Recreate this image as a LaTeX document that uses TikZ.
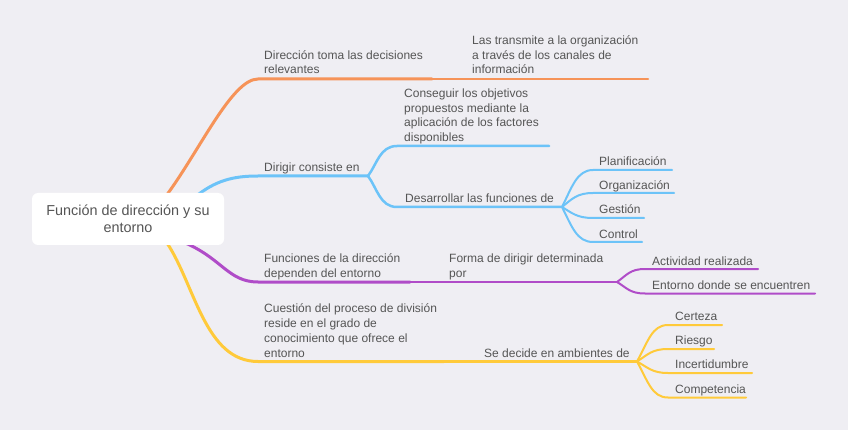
\documentclass[tikz,border=0pt]{standalone}
\usepackage{fontspec}
\setmainfont{Liberation Sans}
\definecolor{bgc}{HTML}{EFEEF3}
\definecolor{txtc}{HTML}{555555}
\definecolor{orc}{HTML}{F69358}
\definecolor{blc}{HTML}{6CC3F8}
\definecolor{puc}{HTML}{B04CC8}
\definecolor{yec}{HTML}{FFCA3A}
\begin{document}
\begin{tikzpicture}[x=1pt,y=-1pt,
  lvlone/.style={line width=3pt,line cap=round},
  lvltwo/.style={line width=2.5pt,line cap=round},
  leafline/.style={line width=2pt,line cap=round},
  txt/.style={anchor=base west,inner sep=0pt,align=left,text=txtc,
    font=\fontsize{12}{14.7}\selectfont},
  rootbox/.style={fill=white,rounded corners=6pt,minimum width=192pt,
    minimum height=52pt,align=center,text=txtc,inner sep=0pt,
    font=\fontsize{14.4}{17.3}\selectfont}]
\fill[bgc] (0,0) rectangle (848,430);
\useasboundingbox (0,0) rectangle (848,430);

% ---------- orange ----------
\coordinate (oS) at (166,196);
\coordinate (oA) at (258,79);
\coordinate (oB) at (432,79);
\coordinate (oC) at (648,79);
\draw[lvlone,orc] (oS) .. controls +(34,-46) and +(-26,0) .. (oA) -- (oB);
\draw[lvltwo,orc] (oB) -- (oC);
\node[txt] (o1) at (264,74) {Dirección toma las decisiones\\relevantes};
\node[txt] (o2) at (472,74) {Las transmite a la organización\\a través de los canales de\\información};

% ---------- blue ----------
\coordinate (bS) at (195,197);
\coordinate (bA) at (258,176);
\coordinate (bB) at (368,176);
\coordinate (bC) at (397,146);
\coordinate (bC2) at (549,146);
\coordinate (bD) at (397,207);
\coordinate (bE) at (562,207);
\draw[lvlone,blc] (bS) .. controls +(20,-16) and +(-26,0) .. (bA) -- (bB);
\draw[lvltwo,blc] (bB) .. controls +(9,-12) and +(-17,0) .. (bC) -- (bC2);
\draw[lvltwo,blc] (bB) .. controls +(9,12) and +(-17,0) .. (bD) -- (bE);
\coordinate (l1a) at (593,170); \coordinate (l1b) at (672,170);
\coordinate (l2a) at (593,193); \coordinate (l2b) at (674,193);
\coordinate (l3a) at (593,218); \coordinate (l3b) at (644,218);
\coordinate (l4a) at (593,242); \coordinate (l4b) at (642,242);
\draw[leafline,blc] (bE) .. controls +(10,-20) and +(-16,0) .. (l1a) -- (l1b);
\draw[leafline,blc] (bE) .. controls +(10,-8) and +(-16,0) .. (l2a) -- (l2b);
\draw[leafline,blc] (bE) .. controls +(10,6) and +(-16,0) .. (l3a) -- (l3b);
\draw[leafline,blc] (bE) .. controls +(10,20) and +(-16,0) .. (l4a) -- (l4b);
\node[txt] (b1) at (264,172) {Dirigir consiste en};
\node[txt] (b2) at (404,141.5) {Conseguir los objetivos\\propuestos mediante la\\aplicación de los factores\\disponibles};
\node[txt] (b3) at (405,202.5) {Desarrollar las funciones de};
\node[txt] (b4) at (599,166) {Planificación};
\node[txt] (b5) at (599,189.5) {Organización};
\node[txt] (b6) at (599,214) {Gestión};
\node[txt] (b7) at (599,238.5) {Control};

% ---------- purple ----------
\coordinate (pS) at (183,242);
\coordinate (pA) at (258,282);
\coordinate (pB) at (410,282);
\coordinate (pC) at (617,282);
\draw[lvlone,puc] (pS) .. controls +(39,16) and +(-30,0) .. (pA) -- (pB);
\draw[lvltwo,puc] (pB) -- (pC);
\coordinate (m1a) at (645,269); \coordinate (m1b) at (758,269);
\coordinate (m2a) at (645,293.5); \coordinate (m2b) at (815,293.5);
\draw[leafline,puc] (pC) .. controls +(10,-7) and +(-15,0) .. (m1a) -- (m1b);
\draw[leafline,puc] (pC) .. controls +(10,6) and +(-15,0) .. (m2a) -- (m2b);
\node[txt] (p1) at (264,277.5) {Funciones de la dirección\\dependen del entorno};
\node[txt] (p2) at (449,277.5) {Forma de dirigir determinada\\por};
\node[txt] (p3) at (652,265.5) {Actividad realizada};
\node[txt] (p4) at (652,289.5) {Entorno donde se encuentren};

% ---------- yellow ----------
\coordinate (yS) at (167,243);
\coordinate (yA) at (258,361.5);
\coordinate (yB) at (444,361.5);
\coordinate (yC) at (637,361.5);
\draw[lvlone,yec] (yS) .. controls +(28,42) and +(-53,0) .. (yA) -- (yB);
\draw[lvltwo,yec] (yB) -- (yC);
\coordinate (n1a) at (668,325); \coordinate (n1b) at (722,325);
\coordinate (n2a) at (668,349); \coordinate (n2b) at (714,349);
\coordinate (n3a) at (668,373); \coordinate (n3b) at (752,373);
\coordinate (n4a) at (668,397.5); \coordinate (n4b) at (746,397.5);
\draw[leafline,yec] (yC) .. controls +(11,-20) and +(-16,0) .. (n1a) -- (n1b);
\draw[leafline,yec] (yC) .. controls +(11,-7) and +(-16,0) .. (n2a) -- (n2b);
\draw[leafline,yec] (yC) .. controls +(11,6) and +(-16,0) .. (n3a) -- (n3b);
\draw[leafline,yec] (yC) .. controls +(11,20) and +(-16,0) .. (n4a) -- (n4b);
\node[txt] (y1) at (264,357) {Cuestión del proceso de división\\reside en el grado de\\conocimiento que ofrece el\\entorno};
\node[txt] (y2) at (484,357) {Se decide en ambientes de};
\node[txt] (y3) at (675,320) {Certeza};
\node[txt] (y4) at (675,344) {Riesgo};
\node[txt] (y5) at (675,368.5) {Incertidumbre};
\node[txt] (y6) at (675,393) {Competencia};

% ---------- root ----------
\node[rootbox] (root) at (128,219) {Función de dirección y su\\entorno};
\end{tikzpicture}
\end{document}
